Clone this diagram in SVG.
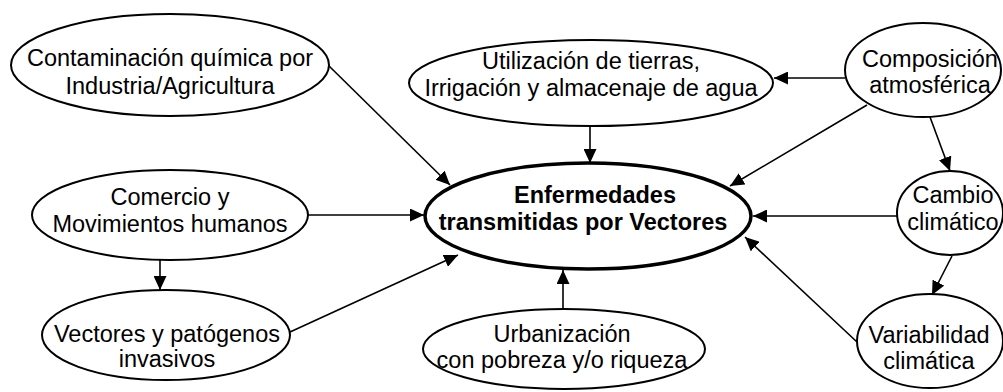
<svg xmlns="http://www.w3.org/2000/svg" width="1003" height="392" viewBox="0 0 1003 392">
<style>
.n{fill:#fff;stroke:#000;stroke-width:2}
.c{fill:#fff;stroke:#000;stroke-width:3.5}
text{font-family:"Liberation Sans",Arial,sans-serif;font-size:23.5px;fill:#000;text-anchor:middle}
.b{font-weight:bold}
.e{stroke:#000;stroke-width:1.6;fill:none;marker-end:url(#ah)}
</style>
<defs>
<marker id="ah" markerUnits="userSpaceOnUse" markerWidth="15" markerHeight="13" refX="14" refY="6.5" orient="auto">
<path d="M0,0 L14,6.5 L0,13 z" fill="#000"/>
</marker>
</defs>
<rect width="1003" height="392" fill="#fff"/>
<g id="connectors">
<line class="e" x1="327" y1="64" x2="450" y2="185"/>
<line class="e" x1="590" y1="126" x2="590" y2="163"/>
<line class="e" x1="845" y1="78" x2="774" y2="78"/>
<line class="e" x1="867" y1="105" x2="730" y2="186"/>
<line class="e" x1="930" y1="117" x2="950" y2="171"/>
<line class="e" x1="308" y1="215" x2="424" y2="215"/>
<line class="e" x1="160" y1="260" x2="160" y2="290"/>
<line class="e" x1="290" y1="332" x2="458" y2="255"/>
<line class="e" x1="563" y1="309" x2="563" y2="270"/>
<line class="e" x1="898" y1="216" x2="753" y2="216"/>
<line class="e" x1="952" y1="256" x2="932" y2="295"/>
<line class="e" x1="857" y1="342" x2="745" y2="237"/>
</g>
<g id="contaminacion">
<ellipse class="n" cx="170" cy="65" rx="159" ry="51"/>
<text x="170" y="66">Contaminación química por</text>
<text x="170" y="94">Industria/Agricultura</text>
</g>
<g id="utilizacion">
<ellipse class="n" cx="591" cy="83" rx="182" ry="43"/>
<text x="591" y="69">Utilización de tierras,</text>
<text x="591" y="96">Irrigación y almacenaje de agua</text>
</g>
<g id="composicion">
<ellipse class="n" cx="923" cy="70" rx="78" ry="47"/>
<text x="930" y="67">Composición</text>
<text x="930" y="93">atmosférica</text>
</g>
<g id="enfermedades">
<ellipse class="c" cx="588" cy="216" rx="163" ry="53"/>
<text class="b" x="595" y="203">Enfermedades</text>
<text class="b" x="583" y="230">transmitidas por Vectores</text>
</g>
<g id="comercio">
<ellipse class="n" cx="170" cy="215" rx="138" ry="45"/>
<text x="170" y="205">Comercio y</text>
<text x="170" y="232">Movimientos humanos</text>
</g>
<g id="vectores">
<ellipse class="n" cx="166" cy="335" rx="124" ry="45"/>
<text x="167" y="342">Vectores y patógenos</text>
<text x="167" y="367">invasivos</text>
</g>
<g id="urbanizacion">
<ellipse class="n" cx="564" cy="349" rx="141" ry="40"/>
<text x="562" y="342">Urbanización</text>
<text x="562" y="368">con pobreza y/o riqueza</text>
</g>
<g id="cambio">
<ellipse class="n" cx="950" cy="213" rx="53" ry="42"/>
<text x="953" y="203">Cambio</text>
<text x="953" y="230">climático</text>
</g>
<g id="variabilidad">
<ellipse class="n" cx="930" cy="341" rx="73" ry="47"/>
<text x="929" y="343">Variabilidad</text>
<text x="929" y="369">climática</text>
</g>
</svg>
